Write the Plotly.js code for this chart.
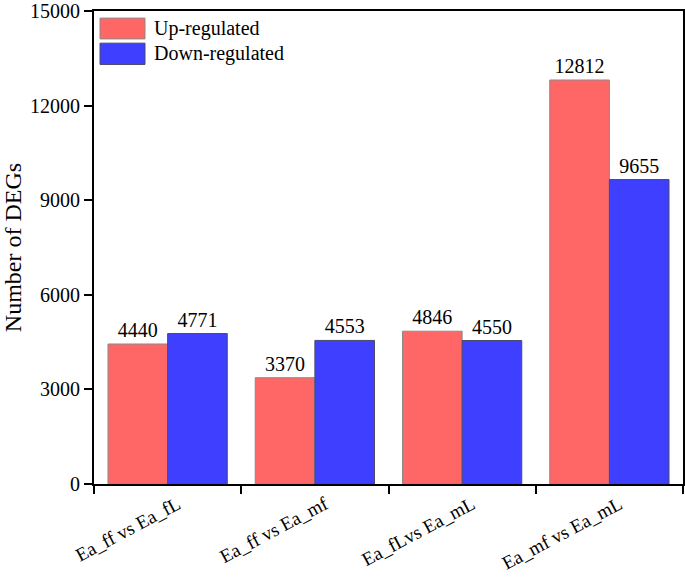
<!DOCTYPE html>
<html>
<head>
<meta charset="utf-8">
<script src="https://cdn.plot.ly/plotly-3.0.1.min.js"></script>
<style>html,body{margin:0;padding:0;background:#fff;}</style>
</head>
<body>
<div id="chart" style="width:685px;height:580px;"></div>
<script>
const categories = ["Ea_ff vs Ea_fL", "Ea_ff vs Ea_mf", "Ea_fLvs Ea_mL", "Ea_mf vs Ea_mL"];
const upValues = [4440, 3370, 4846, 12812];
const downValues = [4771, 4553, 4550, 9655];
const yTicks = [0, 3000, 6000, 9000, 12000, 15000];
const seriesNames = ["Up-regulated", "Down-regulated"];
const seriesColors = ["#FF6666", "#3F3FFF"];
const outlineColors = ["#8a8a8a", "#4a4a6a"];

const font = "Liberation Serif";

const traces = [upValues, downValues].map((vals, i) => ({
  type: "bar", name: seriesNames[i], x: categories, y: vals,
  text: vals.map(String), textposition: "outside", cliponaxis: false,
  textfont: {family: font, size: 20, color: "#000"},
  marker: {color: seriesColors[i], line: {color: outlineColors[i], width: 1}},
  showlegend: false
}));

// custom legend (larger swatches, as in the reference)
const legendShapes = [];
const legendAnnots = [];
const legY = [[0.985, 0.941], [0.932, 0.887]];
seriesNames.forEach((n, i) => {
  legendShapes.push({type: "rect", xref: "paper", yref: "paper",
    x0: 0.0102, x1: 0.0866, y0: legY[i][1], y1: legY[i][0],
    fillcolor: seriesColors[i], line: {color: outlineColors[i], width: 1}});
  legendAnnots.push({xref: "paper", yref: "paper", x: 0.0985, y: (legY[i][0] + legY[i][1]) / 2,
    xanchor: "left", yanchor: "middle", showarrow: false, text: n,
    font: {family: font, size: 20, color: "#000"}});
});

const layout = {
  width: 685, height: 580,
  margin: {l: 94, r: 2, t: 11, b: 96},
  paper_bgcolor: "#fff", plot_bgcolor: "#fff",
  font: {family: font, size: 20, color: "#000"},
  barmode: "group", bargap: 0.19, bargroupgap: 0,
  showlegend: false,
  shapes: legendShapes,
  annotations: legendAnnots,
  xaxis: {
    type: "category", tickson: "boundaries", tickangle: -28,
    showline: true, linecolor: "#000", linewidth: 2, mirror: true,
    ticks: "outside", ticklen: 8, tickwidth: 2, tickcolor: "#000",
    ticklabelshift: 10, ticklabelstandoff: 0,
    showgrid: false, zeroline: false,
    tickfont: {family: font, size: 19, color: "#000"}
  },
  yaxis: {
    range: [0, 15000], tickvals: yTicks, ticktext: yTicks.map(String),
    showline: true, linecolor: "#000", linewidth: 2, mirror: true,
    ticks: "outside", ticklen: 8, tickwidth: 2, tickcolor: "#000",
    showgrid: false, zeroline: false,
    tickfont: {family: font, size: 20, color: "#000"},
    title: {text: "Number of DEGs", font: {family: font, size: 24, color: "#000"}, standoff: 4}
  }
};

Plotly.newPlot("chart", traces, layout, {displayModeBar: false, staticPlot: true});
</script>
</body>
</html>
